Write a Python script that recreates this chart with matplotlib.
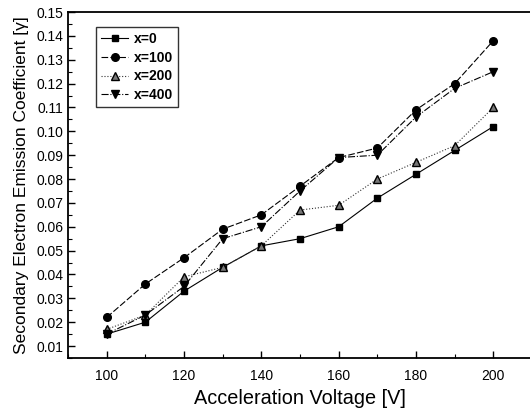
import matplotlib.pyplot as plt
import numpy as np
from matplotlib.ticker import MultipleLocator

plt.rcParams['font.family'] = ['Liberation Sans', 'DejaVu Sans']

voltage = [100, 110, 120, 130, 140, 150, 160, 170, 180, 190, 200]
x0 = [0.015, 0.020, 0.033, 0.043, 0.052, 0.055, 0.060, 0.072, 0.082, 0.092, 0.102]
x100 = [0.022, 0.036, 0.047, 0.059, 0.065, 0.077, 0.089, 0.093, 0.109, 0.120, 0.138]
x200 = [0.017, 0.023, 0.039, 0.043, 0.052, 0.067, 0.069, 0.080, 0.087, 0.094, 0.110]
x400 = [0.015, 0.023, 0.035, 0.055, 0.060, 0.075, 0.089, 0.090, 0.106, 0.118, 0.125]
labels = ['x=0', 'x=100', 'x=200', 'x=400']

fig = plt.figure(figsize=(5.30, 4.09), dpi=100)
ax = fig.add_axes([68/530, 51/409, 464/530, 346/409])

ax.plot(voltage, x0, '-', marker='s', color='k', lw=0.8, ms=4.5, label=labels[0])
ax.plot(voltage, x100, '--', marker='o', color='k', lw=0.8, ms=5.5, label=labels[1], dashes=(6, 2))
ax.plot(voltage, x200, ':', marker='^', color='#333333', mfc='#777777', mec='k', lw=0.8, ms=5.5, label=labels[2])
ax.plot(voltage, x400, '-.', marker='v', color='k', lw=0.8, ms=6, label=labels[3])

ax.set_xlim(90, 210)
ax.set_ylim(0.005, 0.15)
ax.xaxis.set_major_locator(MultipleLocator(20))
ax.xaxis.set_minor_locator(MultipleLocator(10))
ax.yaxis.set_major_locator(MultipleLocator(0.01))
ax.yaxis.set_minor_locator(MultipleLocator(0.005))
ax.yaxis.set_major_formatter(plt.FormatStrFormatter('%.2f'))
ax.tick_params(which='both', direction='in', top=False, right=False, labelsize=10)
ax.tick_params(which='major', length=5, width=1)
ax.tick_params(which='minor', length=3, width=0.8)
ax.tick_params(axis='x', pad=8)
for s in ax.spines.values():
    s.set_linewidth(1.3)
ax.spines['right'].set_visible(False)

ax.set_xlabel('Acceleration Voltage [V]', fontsize=14.3, labelpad=4)
ax.set_ylabel('Secondary Electron Emission Coefficient [γ]', fontsize=12.5, labelpad=5)

leg = ax.legend(loc='upper left', bbox_to_anchor=(0.06, 0.957), borderaxespad=0, frameon=True,
                fancybox=False, edgecolor='k', prop={'size': 10, 'weight': 'bold'},
                handlelength=2.0, handletextpad=0.4, borderpad=0.35, labelspacing=0.35)
leg.get_frame().set_linewidth(1.0)

fig.savefig('out.png', dpi=100)
